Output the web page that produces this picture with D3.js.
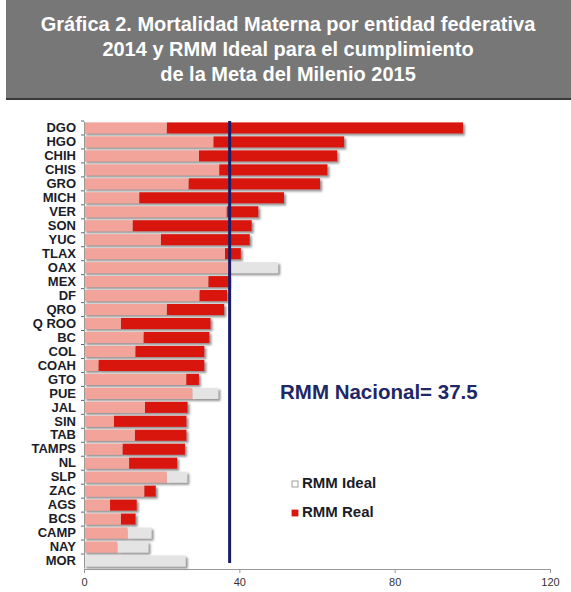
<!DOCTYPE html>
<html>
<head>
<meta charset="utf-8">
<script src="https://cdn.jsdelivr.net/npm/d3@7"></script>
<style>
  body { margin: 0; background: #fff; }
  svg { display: block; font-family: "Liberation Sans", Arial, sans-serif; }
</style>
</head>
<body>
<div id="chart"></div>
<script>
'use strict';

// Data
const states = ["DGO", "HGO", "CHIH", "CHIS", "GRO", "MICH", "VER", "SON", "YUC", "TLAX",
    "OAX", "MEX", "DF", "QRO", "Q ROO", "BC", "COL", "COAH", "GTO", "PUE", "JAL", "SIN",
    "TAB", "TAMPS", "NL", "SLP", "ZAC", "AGS", "BCS", "CAMP", "NAY", "MOR"];
const rmmReal = [97.6, 67.0, 65.2, 62.7, 60.8, 51.5, 44.9, 43.2, 42.7, 40.4,
    37.6, 37.3, 36.9, 36.1, 32.6, 32.3, 31.0, 31.0, 29.6, 27.9, 26.7, 26.4,
    26.4, 26.0, 24.0, 21.3, 18.5, 13.6, 13.3, 11.2, 8.6, 0];
const rmmIdeal = [21.3, 33.3, 29.6, 34.8, 26.9, 14.2, 36.7, 12.5, 19.8, 36.3,
    50.0, 32.0, 29.7, 21.3, 9.5, 15.3, 13.2, 3.7, 26.3, 34.6, 15.7, 7.7,
    13.1, 9.9, 11.6, 26.6, 15.5, 6.7, 9.5, 17.4, 16.6, 26.2];
const xTicks = [0, 40, 80, 120];
const rmmNacional = 37.5;
const titleLines = ["Gráfica 2. Mortalidad Materna por entidad federativa",
    "2014 y RMM Ideal para el cumplimiento",
    "de la Meta del Milenio 2015"];

const W = 571, H = 592;
const colPink = "#f2a49b", colRed = "#d8180c", colGrey = "#e4e4e4";

const svg = d3.select("#chart").append("svg")
    .attr("width", W)
    .attr("height", H);

// drop shadow used by the bars
const defs = svg.append("defs");
defs.append("filter")
    .attr("id", "shadow")
    .attr("x", "-5%").attr("y", "-30%")
    .attr("width", "115%").attr("height", "180%")
    .append("feDropShadow")
    .attr("dx", 2).attr("dy", 2)
    .attr("stdDeviation", 0.8)
    .attr("flood-color", "#777")
    .attr("flood-opacity", 0.8);

// Title box
svg.append("rect")
    .attr("x", 6).attr("y", 97)
    .attr("width", W - 6).attr("height", 3)
    .attr("fill", "#3a3a3a");
svg.append("rect")
    .attr("x", 6).attr("y", 0)
    .attr("width", W - 6).attr("height", 98)
    .attr("fill", "#777777");

svg.append("g")
    .selectAll("text")
    .data(titleLines)
    .enter()
    .append("text")
    .attr("x", 288)
    .attr("y", (d, i) => 31 + i * 25)
    .attr("text-anchor", "middle")
    .attr("fill", "#ffffff")
    .attr("font-size", 20)
    .attr("font-weight", "bold")
    .text(d => d);

// Scales
const x = d3.scaleLinear()
    .domain([0, 120])
    .range([84, 550]);

const y = d3.scaleBand()
    .domain(states)
    .range([121, 568])
    .paddingInner(0.2)
    .paddingOuter(0.1);

const rows = states.map((s, i) => ({ state: s, real: rmmReal[i], ideal: rmmIdeal[i] }));

// Bars: pink overlap, red where real exceeds ideal, grey where ideal exceeds real
const barG = svg.append("g");
const row = barG.selectAll("g")
    .data(rows)
    .enter()
    .append("g")
    .attr("filter", "url(#shadow)");

row.filter(d => d.ideal > d.real)
    .append("rect")
    .attr("x", d => x(d.real))
    .attr("y", d => y(d.state))
    .attr("width", d => x(d.ideal) - x(d.real))
    .attr("height", y.bandwidth())
    .attr("fill", colGrey);

row.filter(d => d.real > d.ideal)
    .append("rect")
    .attr("x", d => x(d.ideal))
    .attr("y", d => y(d.state))
    .attr("width", d => x(d.real) - x(d.ideal))
    .attr("height", y.bandwidth())
    .attr("fill", colRed);

row.filter(d => Math.min(d.real, d.ideal) > 0)
    .append("rect")
    .attr("x", x(0))
    .attr("y", d => y(d.state))
    .attr("width", d => x(Math.min(d.real, d.ideal)) - x(0))
    .attr("height", y.bandwidth())
    .attr("fill", colPink);

// Y axis
const yAxis = svg.append("g")
    .attr("transform", "translate(" + x(0) + ",0)")
    .call(d3.axisLeft(y).tickSize(0).tickPadding(8));
yAxis.select(".domain").attr("stroke", "#999");
yAxis.selectAll("text")
    .attr("font-size", 13)
    .attr("font-weight", "bold")
    .attr("fill", "#1c1c28")
    .attr("font-family", "Liberation Sans, Arial, sans-serif");

// small tick marks between categories
svg.append("g")
    .selectAll("line")
    .data(states)
    .enter()
    .append("line")
    .attr("x1", x(0) - 3).attr("x2", x(0))
    .attr("y1", d => y(d) - y.step() * y.paddingInner() / 2)
    .attr("y2", d => y(d) - y.step() * y.paddingInner() / 2)
    .attr("stroke", "#666");

// X axis
const xAxis = svg.append("g")
    .attr("transform", "translate(0,569)")
    .call(d3.axisBottom(x).tickValues(xTicks).tickSize(4).tickPadding(5));
xAxis.select(".domain").attr("stroke", "#999");
xAxis.selectAll("line").attr("stroke", "#999");
xAxis.selectAll("text")
    .attr("font-size", 11)
    .attr("fill", "#333")
    .attr("font-family", "Liberation Sans, Arial, sans-serif");

// National RMM reference line
svg.append("line")
    .attr("x1", x(rmmNacional)).attr("x2", x(rmmNacional))
    .attr("y1", 121).attr("y2", 563)
    .attr("stroke", "#1a1d66")
    .attr("stroke-width", 3);

svg.append("text")
    .attr("x", 280).attr("y", 399)
    .attr("fill", "#1f2766")
    .attr("font-size", 20.5)
    .attr("font-weight", "bold")
    .text("RMM Nacional= " + rmmNacional);

// Legend
const legendItems = [
    { label: "RMM Ideal", fill: "#ffffff", stroke: "#888" },
    { label: "RMM Real", fill: colRed, stroke: colRed }
];
const legend = svg.append("g")
    .selectAll("g")
    .data(legendItems)
    .enter()
    .append("g")
    .attr("transform", (d, i) => "translate(292," + (481 + i * 29) + ")");
legend.append("rect")
    .attr("width", 6).attr("height", 6)
    .attr("fill", d => d.fill)
    .attr("stroke", d => d.stroke)
    .attr("stroke-width", 0.8);
legend.append("text")
    .attr("x", 10).attr("y", 7)
    .attr("font-size", 15)
    .attr("font-weight", "bold")
    .attr("fill", "#1c1c28")
    .text(d => d.label);
</script>
</body>
</html>
